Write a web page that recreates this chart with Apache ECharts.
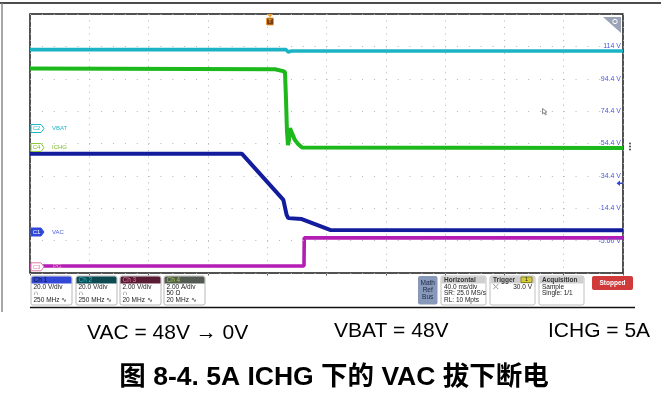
<!DOCTYPE html>
<html><head><meta charset="utf-8">
<script src="https://cdn.jsdelivr.net/npm/echarts@6/dist/echarts.min.js"></script>
<style>html,body{margin:0;padding:0;background:#fff}#c{width:661px;height:403px}</style>
</head><body><div id="c"></div><script>
// Time axis: ms from left edge of screen (40 ms/div, 10 div)
const timeTicks = [0, 40, 80, 120, 160, 200, 240, 280, 320, 360, 400];
// Right-hand labels (Ch1 scale, 20 V/div), one per horizontal gridline (div 1..7)
const vacTickLabels = ['-5.60 V', '14.4 V', '34.4 V', '54.4 V', '74.4 V', '94.4 V', '114 V'];

// Ch1 VAC (V)
const vacTime  = [0, 143, 170.9, 172.0, 173.1, 174.2, 183.3, 202.4, 400];
const vacVolts = [48.0, 48.0, 19.6, 18.5, 10.3, 8.3, 7.7, 1.0, 0.8];
// Ch2 VBAT (V)
const vbatTime  = [0, 172.7, 174.2, 176.0, 400];
const vbatVolts = [48.4, 48.4, 46.9, 47.5, 47.5];
// Ch4 ICHG (A)
const ichgTime = [0, 165.3, 170.6, 172.0, 172.7, 173.3, 174.0, 174.7, 175.4, 176.7, 178.7, 180.8, 183.5, 400];
const ichgAmps = [4.83, 4.79, 4.67, 4.61, 2.88, 1.03, 0.10, 0.41, 1.15, 0.84, 0.41, 0.17, -0.05, -0.08];
// Ch3 PG (V)
const pgTime  = [0, 184.8, 185.0, 400];
const pgVolts = [0.04, 0.04, 1.78, 1.78];

const zip = (a, b) => a.map((t, i) => [t, b[i]]);
const FONT = '"Liberation Sans", Arial, "Noto Sans CJK SC", sans-serif';

function txt(text, x, y, opt) {
  opt = opt || {};
  const el = { type: 'text', z: opt.z || 100, silent: true,
    style: { text: text, x: x, y: y, fill: opt.fill || '#222',
      font: (opt.weight || 'normal') + ' ' + (opt.size || 6.5) + 'px ' + (opt.family || FONT),
      textAlign: opt.align || 'left', textVerticalAlign: 'middle' } };
  if (opt.zlevel) el.zlevel = opt.zlevel;
  return el;
}
function rect(x, y, w, h, fill, stroke, r, lw) {
  return { type: 'rect', z: 90, silent: true, shape: { x: x, y: y, width: w, height: h, r: r || 0 },
    style: { fill: fill, stroke: stroke || null, lineWidth: lw || 1 } };
}
function poly(points, fill, stroke, zlevel) {
  const el = { type: 'polygon', z: 95, silent: true, shape: { points: points },
    style: { fill: fill, stroke: stroke || null, lineWidth: 1 } };
  if (zlevel) el.zlevel = zlevel;
  return el;
}
function line(x1, y1, x2, y2, stroke, lw) {
  return { type: 'line', z: 80, silent: true, shape: { x1: x1, y1: y1, x2: x2, y2: y2 },
    style: { stroke: stroke, lineWidth: lw || 1 } };
}
function badge(x, y, label, stroke, fill, textFill) {
  return [poly([[x, y - 4], [x + 10, y - 4], [x + 13, y], [x + 10, y + 4], [x, y + 4]], fill, stroke, 1),
    txt(label, x + 5.5, y + 0.3, { fill: textFill, size: 6, align: 'center', z: 101, zlevel: 1 })];
}
function chBox(x, title, headFill, headText, l1, l2, l3) {
  return [rect(x, 276, 41, 29, '#fff', '#b8b8b8', 2),
    rect(x + 0.5, 276.5, 40, 7, headFill, null, [2, 2, 0, 0]),
    txt(title, x + 2.5, 280, { fill: headText, size: 6.5 }),
    txt(l1, x + 2.5, 287, { size: 6.5 }),
    txt(l2, x + 2.5, 293.5, { size: 6.5 }),
    txt(l3, x + 2.5, 300, { size: 6.5 })];
}
function infoBox(x, w, title, lines) {
  const els = [rect(x, 276, w, 29, '#fff', '#c0c0c0', 2),
    rect(x + 0.5, 276.5, w - 1, 7, '#cfcfcf', null, [2, 2, 0, 0]),
    txt(title, x + 3, 280, { size: 6.5, weight: 'bold', fill: '#333' })];
  lines.forEach((l, i) => els.push(txt(l, x + 3, 287 + i * 6.5, { size: 6.5 })));
  return els;
}

const graphics = [].concat(
  // outer frame
  [line(0, 3, 661, 3, '#111', 1.5), line(2, 3, 2, 312, '#8a8a8a', 1.5), line(30, 307.5, 635, 307.5, '#111', 1.5)],
  // channel badges
  badge(31, 128.5, 'C2', '#20b8c8', '#fff', '#20b8c8'), [txt('VBAT', 52, 128.5, { fill: '#20b8c8', size: 6 })],
  badge(31, 147.5, 'C4', '#8cc83a', '#fff', '#7ab82a'), [txt('ICHG', 52, 147.5, { fill: '#7ab82a', size: 6, zlevel: 1 })],
  badge(31, 232, 'C1', '#3048d8', '#3048d8', '#fff'), [txt('VAC', 52, 232, { fill: '#5060e0', size: 6 })],
  badge(31, 266.8, 'C3', '#e07aa8', '#fff', '#e07aa8'), [txt('PG', 53, 266.8, { fill: '#f0a0c8', size: 6, zlevel: 1 })],
  // trigger position marker
  [poly([[267, 14], [273, 14], [270, 17.5]], '#f0a030'),
   rect(266.5, 18, 7, 7, '#7a3e12', '#f0a030', 1),
   txt('T', 270, 21.6, { fill: '#f0a030', size: 5.5, align: 'center', weight: 'bold', z: 101 })],
  // top-right zoom triangle
  [poly([[603, 17], [621, 17], [621, 33]], '#9aa4b6'),
   { type: 'circle', z: 96, silent: true, shape: { cx: 615, cy: 21.5, r: 2.2 }, style: { fill: 'none', stroke: '#fff', lineWidth: 1 } },
   line(613.5, 23, 611, 25.5, '#fff', 1.2)],
  // right side markers
  [{ type: 'circle', z: 96, silent: true, shape: { cx: 630, cy: 143.5, r: 0.9 }, style: { fill: '#333' } },
   { type: 'circle', z: 96, silent: true, shape: { cx: 630, cy: 146.5, r: 0.9 }, style: { fill: '#333' } },
   { type: 'circle', z: 96, silent: true, shape: { cx: 630, cy: 149.5, r: 0.9 }, style: { fill: '#333' } },
   poly([[616.5, 183.2], [620, 180.5], [620, 182.4], [622.5, 182.4], [622.5, 184], [620, 184], [620, 186]], '#3048d8')],
  // cursor
  [poly([[542.5, 108.5], [542.5, 114], [544, 112.6], [545.5, 115], [546.3, 114.5], [545, 112.2], [547, 112]], '#fff', '#8a8a8a')],
  // channel boxes
  chBox(31, 'Ch 1', '#3448d8', '#111', '20.0 V/div', '∩', '250 MHz ∿'),
  chBox(76, 'Ch 2', '#0d4a52', '#28c0cc', '20.0 V/div', '∩', '250 MHz ∿'),
  chBox(120, 'Ch 3', '#5a1c34', '#e07aa8', '2.00 V/div', '∩', '20 MHz ∿'),
  chBox(164, 'Ch 4', '#525a52', '#a8d040', '2.00 A/div', '50 Ω', '20 MHz ∿'),
  // math/ref/bus
  [rect(418, 276, 19.5, 28.5, '#8898b8', null, 2),
   txt('Math', 427.7, 283, { size: 6.5, align: 'center', fill: '#1a2848' }),
   txt('Ref', 427.7, 290, { size: 6.5, align: 'center', fill: '#1a2848' }),
   txt('Bus', 427.7, 297, { size: 6.5, align: 'center', fill: '#1a2848' })],
  infoBox(441, 45, 'Horizontal', ['40.0 ms/div', 'SR: 25.0 MS/s', 'RL: 10 Mpts']),
  infoBox(490, 45, 'Trigger', []),
  [rect(521, 277, 11, 5.5, '#d4cc3c', '#8a8420', 0),
   txt('1', 526.5, 279.8, { size: 5.5, align: 'center', z: 102 }),
   txt('⤫', 493, 287, { size: 7 }),
   txt('30.0 V', 532, 287, { size: 6.5, align: 'right' })],
  infoBox(539, 45, 'Acquisition', ['Sample', 'Single: 1/1']),
  [rect(592, 276, 41, 14, '#d03a3a', null, 2),
   txt('Stopped', 612.5, 283, { size: 6.5, align: 'center', fill: '#fff', weight: 'bold' })],
  // captions
  [txt('VAC = 48V → 0V', 87, 333, { size: 21, fill: '#000' }),
   txt('VBAT = 48V', 334, 331, { size: 21, fill: '#000' }),
   txt('ICHG = 5A', 548, 331, { size: 21, fill: '#000' }),
   txt('图 8-4. 5A ICHG 下的 VAC 拔下断电', 334, 378, { size: 26.5, fill: '#000', weight: 'bold', align: 'center' })]
);

const hiddenY = (min, max) => ({ type: 'value', min: min, max: max, show: false, splitLine: { show: false } });

const option = {
  animation: false,
  backgroundColor: '#fff',
  grid: { left: 30, top: 14, width: 593, height: 259, show: true, borderColor: '#1a1a1a', borderWidth: 1.5, backgroundColor: '#fff' },
  xAxis: { type: 'value', min: timeTicks[0], max: timeTicks[timeTicks.length - 1], interval: 40, position: 'top',
    axisLine: { show: false }, axisLabel: { show: false },
    axisTick: { show: true, inside: true, length: 2.5, lineStyle: { color: '#555' } },
    splitLine: { show: true, lineStyle: { color: '#b4b4b4', width: 1, type: [1, 5.48] } } },
  yAxis: [
    { type: 'value', min: 0, max: 8, interval: 1, position: 'right', z: 10,
      axisLine: { show: false }, axisTick: { show: false },
      axisLabel: { inside: true, margin: 2, fontSize: 7, color: '#4a5ad8', fontFamily: FONT,
        formatter: v => (v >= 1 && v <= 7) ? vacTickLabels[v - 1] : '' },
      splitLine: { show: true, lineStyle: { color: '#b4b4b4', width: 1, type: [1, 10.86] } } },
    hiddenY(-25.6, 134.4),   // Ch1 VAC, 20 V/div
    hiddenY(-89.6, 70.4),    // Ch2 VBAT, 20 V/div
    hiddenY(-7.80, 8.20),    // Ch4 ICHG, 2 A/div
    hiddenY(-0.39, 15.61)    // Ch3 PG, 2 V/div
  ],
  series: [
    { name: 'PG', type: 'line', yAxisIndex: 4, data: zip(pgTime, pgVolts), showSymbol: false, z: 3,
      lineStyle: { color: '#b41cb4', width: 3.6 } },
    { name: 'VAC', type: 'line', yAxisIndex: 1, data: zip(vacTime, vacVolts), showSymbol: false, z: 4,
      lineStyle: { color: '#121c9c', width: 4 } },
    { name: 'ICHG', type: 'line', yAxisIndex: 3, data: zip(ichgTime, ichgAmps), showSymbol: false, z: 4,
      lineStyle: { color: '#1cb81c', width: 4 } },
    { name: 'VBAT', type: 'line', yAxisIndex: 2, data: zip(vbatTime, vbatVolts), showSymbol: false, z: 5,
      lineStyle: { color: '#1cb4c4', width: 3.6 } }
  ],
  graphic: { elements: graphics }
};
const chart = echarts.init(document.getElementById('c'), null, { renderer: 'canvas' });
chart.setOption(option);
</script></body></html>
